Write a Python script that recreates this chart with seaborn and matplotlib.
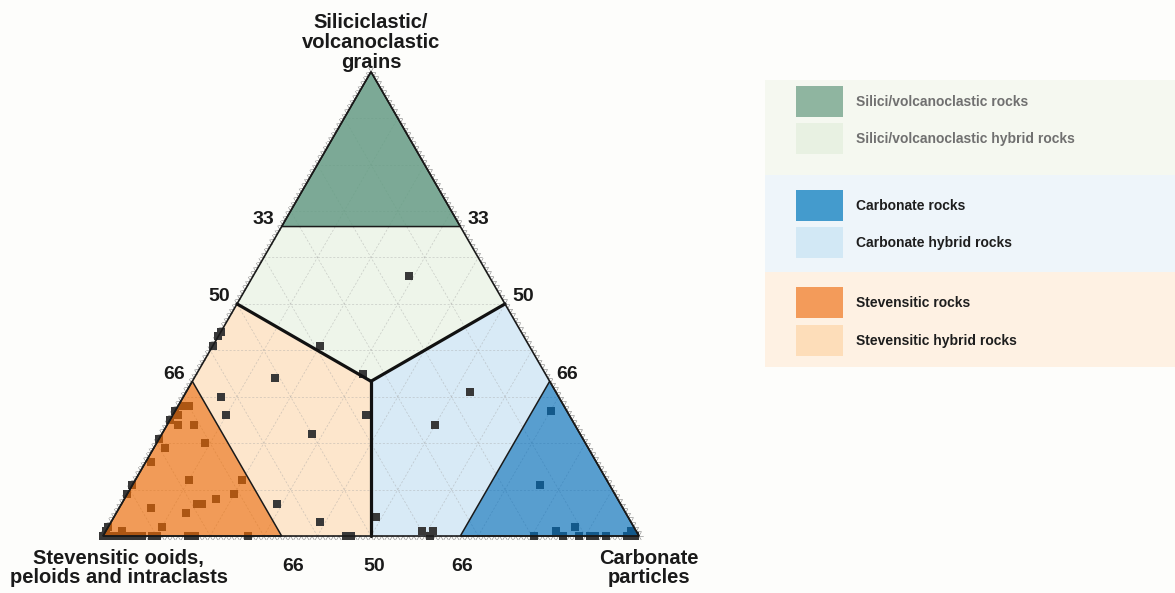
import numpy as np
import pandas as pd
import matplotlib
matplotlib.use("Agg")
import matplotlib.pyplot as plt
from matplotlib.patches import Polygon, Rectangle
import seaborn as sns

# Sample compositions (%) - siliciclastic/volcanoclastic grains, carbonate particles,
# stevensitic ooids/peloids/intraclasts
siliciclastic = [34, 30, 26, 28, 28, 26, 27, 25, 24, 24, 20, 21, 19, 16, 11, 12, 12, 9, 9, 8,
                 7, 7, 6, 5, 7, 2, 2, 1, 1, 0, 0, 0, 0, 0, 0, 0, 0, 0, 0, 0,
                 0, 0, 0, 44, 43, 41, 41, 35, 26, 22, 3, 0, 0, 4, 56, 31, 24, 1, 1, 0,
                 27, 11, 1, 2, 1, 0, 0, 0, 0, 0, 0, 0, 0, 0]
carbonate = [15, 7, 10, 2, 1, 1, 0, 0, 2, 5, 9, 0, 2, 1, 0, 10, 20, 0, 20, 17,
             14, 15, 6, 13, 29, 10, 0, 3, 0, 0, 1, 1.3, 2.2, 3.5, 4.4, 5.4, 6.6, 7.2, 9.1, 10,
             15.9, 17.2, 27.1, 0, 0, 0, 20, 31, 36, 28, 39, 45.3, 46.2, 49, 29, 53, 50, 59, 61, 61.1,
             70, 76, 84, 87, 98, 80.5, 85.8, 88.8, 90.9, 91.8, 93.8, 97.7, 98.5, 99.3]
stevensitic = [100 - s - c for s, c in zip(siliciclastic, carbonate)]

apex_top = "Siliciclastic/\nvolcanoclastic\ngrains"
apex_left = "Stevensitic ooids,\npeloids and intraclasts"
apex_right = "Carbonate\nparticles"

left_edge_labels = ["33", "50", "66"]
right_edge_labels = ["33", "50", "66"]
bottom_edge_labels = ["66", "50", "66"]

legend_labels = ["Silici/volcanoclastic rocks", "Silici/volcanoclastic hybrid rocks",
                 "Carbonate rocks", "Carbonate hybrid rocks",
                 "Stevensitic rocks", "Stevensitic hybrid rocks"]
legend_colors = ["#8FB5A0", "#E8F1E2", "#449BCD", "#D2E8F5", "#F39B5A", "#FDDDB9"]
legend_text_colors = ["#707070", "#707070", "#1e1e1e", "#1e1e1e", "#1e1e1e", "#1e1e1e"]
legend_bands = ["#F5F8F0", "#EEF5FA", "#FEF1E3"]

R3 = np.sqrt(3) / 2
T1, T2, H = 1 / 3, 2 / 3, 1 / 2


def tern(s, c):
    """Ternary (siliciclastic, carbonate) fractions -> cartesian."""
    s = np.asarray(s, float)
    c = np.asarray(c, float)
    return c + s / 2, s * R3


def poly(pts):
    xs, ys = tern([p[0] for p in pts], [p[1] for p in pts])
    return np.column_stack([xs, ys])


sns.set_theme(style="white")
plt.rcParams["font.family"] = ["Liberation Sans", "DejaVu Sans"]
BG = "#FDFDFB"

fig = plt.figure(figsize=(11.75, 5.93), dpi=100, facecolor=BG)
ax = fig.add_axes([0, 0, 1, 1])
ax.set_facecolor(BG)

# vertices in (siliciclastic, carbonate)
TOP, RIGHT, LEFT = (1, 0), (0, 1), (0, 0)
CEN = (T1, T1)

# hybrid fields
light = [
    ([(T2, 0), (T2, T1), (H, H), CEN, (H, 0)], "#EEF5EA"),
    ([(H, H), CEN, (0, H), (0, T2), (T1, T2)], "#D8EAF6"),
    ([(H, 0), CEN, (0, H), (0, T1), (T1, 0)], "#FDE6CC"),
]
for pts, col in light:
    ax.add_patch(Polygon(poly(pts), closed=True, fc=col, ec="none", zorder=1))

# end-member fields (translucent, samples show through)
dark = [
    ([TOP, (T2, 0), (T2, T1)], "#659B84", 0.85),
    ([RIGHT, (0, T2), (T1, T2)], "#006BB8", 0.65),
    ([LEFT, (0, T1), (T1, 0)], "#EB6700", 0.65),
]
for pts, col, a in dark:
    ax.add_patch(Polygon(poly(pts), closed=True, fc=col, ec="none", alpha=a, zorder=4))
    ax.add_patch(Polygon(poly(pts), closed=True, fc="none", ec="#1a1a1a", lw=1.1, zorder=5))

# 10 % grid in the three directions
for k in np.arange(1, 10) / 10:
    for a, b in [((k, 0), (k, 1 - k)), ((0, k), (1 - k, k)), ((0, 1 - k), (1 - k, 0))]:
        x, y = tern([a[0], b[0]], [a[1], b[1]])
        ax.plot(x, y, color="#a0a0a0", lw=0.5, ls=(0, (3, 2.5)), alpha=0.5, zorder=2)

# 1 % ticks outside each edge
L = 0.008
dirs = {
    "bottom": [(-0.5, -R3), (0.5, -R3)],
    "left": [(-1, 0), (-0.5, R3)],
    "right": [(1, 0), (0.5, R3)],
}
for k in np.arange(0, 101) / 100:
    for edge, (sx, cx) in [("bottom", (0, k)), ("left", (k, 0)), ("right", (k, 1 - k))]:
        x0, y0 = tern(sx, cx)
        for dx, dy in dirs[edge]:
            ax.plot([x0, x0 + dx * L], [y0, y0 + dy * L], color="#8c8c8c", lw=0.45, zorder=2)

# field boundaries through the centroid
for end in [(H, 0), (H, H), (0, H)]:
    x, y = tern([end[0], CEN[0]], [end[1], CEN[1]])
    ax.plot(x, y, color="#111111", lw=2.3, solid_capstyle="round", zorder=6)

# outer triangle
ax.add_patch(Polygon(poly([LEFT, RIGHT, TOP]), closed=True, fc="none", ec="#1a1a1a",
                     lw=1.2, zorder=6))

# samples
x, y = tern(np.array(siliciclastic) / 100, np.array(carbonate) / 100)
df = pd.DataFrame({"x": x, "y": y, "stev": stevensitic})
sns.scatterplot(data=df, x="x", y="y", marker="s", s=30, color="#383838", linewidth=0,
                ax=ax, zorder=3, legend=False)
ax.set_xlim(-0.19216, 2.0)
ax.set_ylim(-0.1063, 1.0)
ax.axis("off")

txt = dict(fontsize=14.5, fontweight="bold", color="#1a1a1a")
# apex titles
ax.annotate(apex_top, tern(1, 0), xytext=(0, 0), textcoords="offset points",
            ha="center", va="bottom", linespacing=1.05, **txt)
ax.annotate(apex_left, (0.029, 0), xytext=(0, -9), textcoords="offset points",
            ha="center", va="top", linespacing=1.05, **txt)
ax.annotate(apex_right, (1.019, 0), xytext=(0, -9), textcoords="offset points",
            ha="center", va="top", linespacing=1.05, **txt)

# boundary values along the edges
lab = dict(fontsize=14, fontweight="bold", color="#1a1a1a")
for s, t in zip([T2, H, T1], left_edge_labels):
    ax.annotate(t, tern(s, 0), xytext=(-5, 5), textcoords="offset points",
                ha="right", va="center", **lab)
for s, t in zip([T2, H, T1], right_edge_labels):
    ax.annotate(t, tern(s, 1 - s), xytext=(5, 5), textcoords="offset points",
                ha="left", va="center", **lab)
for c, t, dx in zip([T1, H, T2], bottom_edge_labels, [8, 2.5, 1.5]):
    ax.annotate(t, tern(0, c), xytext=(dx, -15.5), textcoords="offset points",
                ha="center", va="top", **lab)

# legend panel
lax = fig.add_axes([765 / 1175, (593 - 367) / 593, 410 / 1175, 287 / 593])
lax.set_xlim(0, 410)
lax.set_ylim(287, 0)
lax.axis("off")
band_edges = [0, 95, 191.7, 287]
for i, col in enumerate(legend_bands):
    lax.add_patch(Rectangle((0, band_edges[i]), 410, band_edges[i + 1] - band_edges[i],
                            fc=col, ec="none"))
sw_top = [6, 43, 110, 146.7, 207, 245]
for top, lbl, col, tcol in zip(sw_top, legend_labels, legend_colors, legend_text_colors):
    lax.add_patch(Rectangle((31, top), 47, 31, fc=col, ec="none"))
    lax.text(91, top + 16, lbl, fontsize=10, fontweight="bold", color=tcol,
             ha="left", va="center")

fig.savefig("out.png", dpi=100, facecolor=BG)
